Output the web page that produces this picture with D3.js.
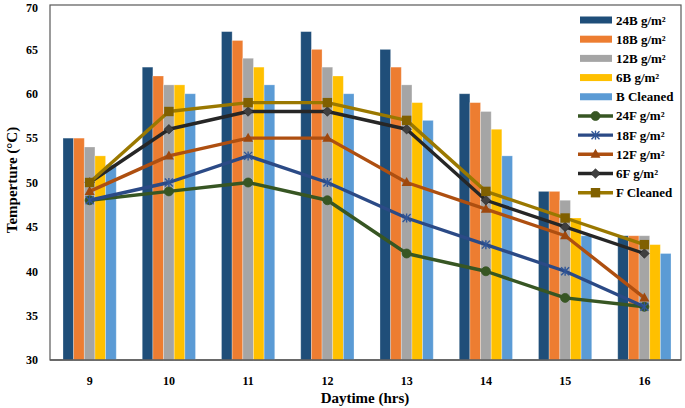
<!DOCTYPE html>
<html><head><meta charset="utf-8">
<script src="https://cdn.jsdelivr.net/npm/d3@7"></script>
<style>body{margin:0;background:#fff}svg{display:block}text{font-family:"Liberation Serif","Times New Roman",serif;font-weight:bold}</style>
</head><body><svg id="c" width="685" height="408"></svg>
<script>
const hours = ["9","10","11","12","13","14","15","16"];
const barNames = ["24B g/m²","18B g/m²","12B g/m²","6B g/m²","B Cleaned"];
const barColors = ["#1F4E79","#ED7D31","#A5A5A5","#FFC000","#5B9BD5"];
const b24 = [55,63,67,67,65,60,49,44];
const b18 = [55,62,66,65,63,59,49,44];
const b12 = [54,61,64,63,61,58,48,44];
const b6  = [53,61,63,62,59,56,46,43];
const bClean = [52,60,61,60,57,53,44,42];
const lineNames = ["24F g/m²","18F g/m²","12F g/m²","6F g/m²","F Cleaned"];
const lineColors = ["#375623","#2B4A86","#AE4F10","#262626","#9A7800"];
const markerFill = ["#375623","#2F5597","#9E480E","#404040","#806000"];
const markerShapes = ["circle","asterisk","triangle","diamond","square"];
const f24 = [48,49,50,48,42,40,37,36];
const f18 = [48,50,53,50,46,43,40,36];
const f12 = [49,53,55,55,50,47,44,37];
const f6  = [50,56,58,58,56,48,45,42];
const fClean = [50,58,59,59,57,49,46,43];
const yTicks = [30,35,40,45,50,55,60,65,70];

const barSeries = [b24,b18,b12,b6,bClean];
const lineSeries = [f24,f18,f12,f6,fClean];

const svg = d3.select("#c");
const L=50, R=684, T=5, B=360;
const x = d3.scaleBand().domain(hours).range([L,R]).paddingInner(0).paddingOuter(0);
const y = d3.scaleLinear().domain([30,70]).range([B,T]);
const groupW = x.bandwidth()*0.672;
const xs = d3.scaleBand().domain(d3.range(5)).range([0,groupW]).padding(0);

// frame
svg.append("rect").attr("x",L).attr("y",T).attr("width",681-L).attr("height",B-T)
  .attr("fill","none").attr("stroke","#595959").attr("stroke-width",1.2);

// bars
barSeries.forEach((s,i)=>{
  svg.append("g").selectAll("rect").data(s).join("rect")
    .attr("x",(d,j)=>x(hours[j])+(x.bandwidth()-groupW)/2+xs(i))
    .attr("y",d=>y(d)).attr("width",xs.bandwidth()).attr("height",d=>y(30)-y(d))
    .attr("fill",barColors[i]).attr("stroke","#fff").attr("stroke-opacity",0.35).attr("stroke-width",0.8);
});

// axes
const yAxis = d3.axisLeft(y).tickValues(yTicks).tickSize(0).tickPadding(12);
const gy = svg.append("g").attr("transform",`translate(${L},0)`).call(yAxis);
gy.select(".domain").remove();
gy.selectAll("text").attr("font-size",12).attr("fill","#000");
gy.selectAll(".tick").filter(d=>d===70).select("text").attr("dy","0.5em");
const xAxis = d3.axisBottom(x).tickSize(0).tickPadding(16);
const gx = svg.append("g").attr("transform",`translate(0,${B})`).call(xAxis);
gx.select(".domain").remove();
gx.selectAll("text").attr("font-size",12).attr("fill","#000");
svg.append("line").attr("x1",L).attr("x2",681).attr("y1",B).attr("y2",B).attr("stroke","#595959").attr("stroke-width",1.5);

// markers
function marker(g,shape,cx,cy,fill,stroke){
  if(shape==="circle") g.append("circle").attr("cx",cx).attr("cy",cy).attr("r",4.5).attr("fill",fill).attr("stroke",stroke).attr("stroke-width",0.8);
  else if(shape==="square") g.append("rect").attr("x",cx-4.7).attr("y",cy-4.7).attr("width",9.4).attr("height",9.4).attr("fill",fill);
  else if(shape==="diamond") g.append("path").attr("d",`M${cx},${cy-4.8}L${cx+4.8},${cy}L${cx},${cy+4.8}L${cx-4.8},${cy}Z`).attr("fill",fill).attr("stroke","#222").attr("stroke-width",0.6);
  else if(shape==="triangle") g.append("path").attr("d",`M${cx},${cy-5.5}L${cx+5},${cy+3.5}L${cx-5},${cy+3.5}Z`).attr("fill",fill);
  else if(shape==="asterisk"){
    const a=g.append("g").attr("stroke",fill).attr("stroke-width",1.4);
    a.append("line").attr("x1",cx-4).attr("x2",cx+4).attr("y1",cy-4).attr("y2",cy+4);
    a.append("line").attr("x1",cx-4).attr("x2",cx+4).attr("y1",cy+4).attr("y2",cy-4);
    a.append("line").attr("x1",cx).attr("x2",cx).attr("y1",cy-4.5).attr("y2",cy+4.5);
  }
}

// lines
const cx = h=>x(h)+x.bandwidth()/2;
const line = d3.line().x((d,j)=>cx(hours[j])).y(d=>y(d));
lineSeries.forEach((s,i)=>{
  const g = svg.append("g");
  g.append("path").datum(s).attr("d",line).attr("fill","none").attr("stroke",lineColors[i]).attr("stroke-width",3.4).attr("stroke-linejoin","round");
  s.forEach((d,j)=>marker(g,markerShapes[i],cx(hours[j]),y(d),markerFill[i],lineColors[i]));
});

// legend
const lg = svg.append("g");
const rowY = d3.scaleLinear().domain([0,9]).range([20,192.7]);
barNames.forEach((n,i)=>{
  lg.append("rect").attr("x",580).attr("y",rowY(i)-3.5).attr("width",32).attr("height",7).attr("fill",barColors[i]);
  lg.append("text").attr("x",616).attr("y",rowY(i)).attr("dy","0.35em").attr("font-size",13).text(n);
});
lineNames.forEach((n,k)=>{
  const i=k+5, yy=rowY(i);
  lg.append("line").attr("x1",578).attr("x2",613).attr("y1",yy).attr("y2",yy).attr("stroke",lineColors[k]).attr("stroke-width",3.4);
  marker(lg,markerShapes[k],595.5,yy,markerFill[k],lineColors[k]);
  lg.append("text").attr("x",616).attr("y",yy).attr("dy","0.35em").attr("font-size",13).text(n);
});

// titles
svg.append("text").attr("x",365).attr("y",403).attr("text-anchor","middle").attr("font-size",15).text("Daytime (hrs)");
svg.append("text").attr("transform","translate(17,180) rotate(-90)").attr("text-anchor","middle").attr("font-size",15).text("Temperture (°C)");
</script></body></html>
